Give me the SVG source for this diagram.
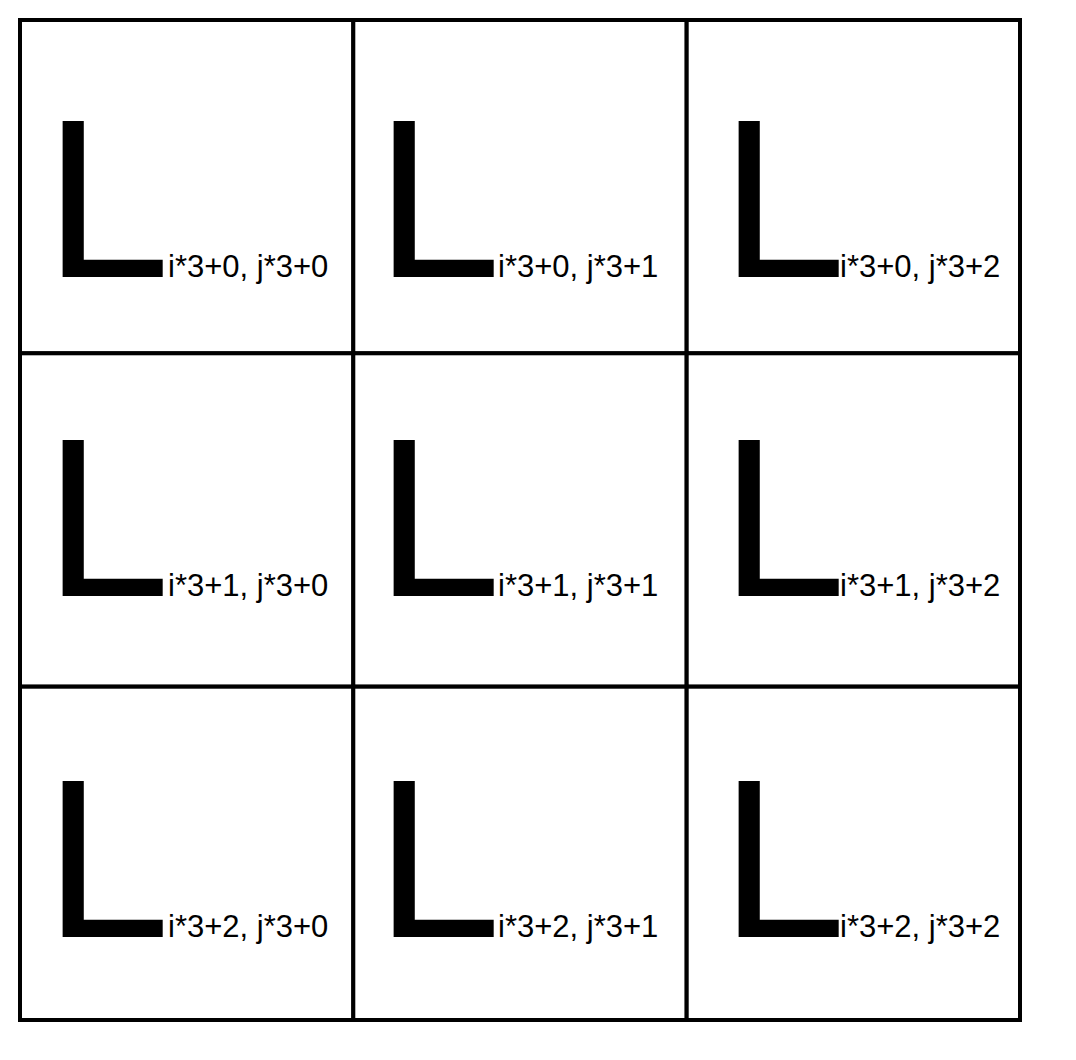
<svg xmlns="http://www.w3.org/2000/svg" width="1076" height="1060" viewBox="0 0 1076 1060">
<style>
.cell{fill:#fff;stroke:#000;stroke-width:4}
.big{font-family:"Liberation Sans",Arial,sans-serif;font-size:227px;fill:#000}
.lbl{font-family:"Liberation Sans",Arial,sans-serif;font-size:31px;fill:#000}
</style>
<rect width="1076" height="1060" fill="#fff"/>
<g id="cell-0-0"><rect class="cell" x="20" y="20" width="333.3" height="333.3"/><text class="big" x="44" y="277">L</text><text class="lbl" x="168" y="277">i*3+0, j*3+0</text></g>
<g id="cell-0-1"><rect class="cell" x="353.3" y="20" width="333.3" height="333.3"/><text class="big" x="375" y="277">L</text><text class="lbl" x="498" y="277">i*3+0, j*3+1</text></g>
<g id="cell-0-2"><rect class="cell" x="686.7" y="20" width="333.3" height="333.3"/><text class="big" x="720" y="277">L</text><text class="lbl" x="840" y="277">i*3+0, j*3+2</text></g>
<g id="cell-1-0"><rect class="cell" x="20" y="353.3" width="333.3" height="333.3"/><text class="big" x="44" y="596">L</text><text class="lbl" x="168" y="596">i*3+1, j*3+0</text></g>
<g id="cell-1-1"><rect class="cell" x="353.3" y="353.3" width="333.3" height="333.3"/><text class="big" x="375" y="596">L</text><text class="lbl" x="498" y="596">i*3+1, j*3+1</text></g>
<g id="cell-1-2"><rect class="cell" x="686.7" y="353.3" width="333.3" height="333.3"/><text class="big" x="720" y="596">L</text><text class="lbl" x="840" y="596">i*3+1, j*3+2</text></g>
<g id="cell-2-0"><rect class="cell" x="20" y="686.7" width="333.3" height="333.3"/><text class="big" x="44" y="937">L</text><text class="lbl" x="168" y="937">i*3+2, j*3+0</text></g>
<g id="cell-2-1"><rect class="cell" x="353.3" y="686.7" width="333.3" height="333.3"/><text class="big" x="375" y="937">L</text><text class="lbl" x="498" y="937">i*3+2, j*3+1</text></g>
<g id="cell-2-2"><rect class="cell" x="686.7" y="686.7" width="333.3" height="333.3"/><text class="big" x="720" y="937">L</text><text class="lbl" x="840" y="937">i*3+2, j*3+2</text></g>
<g id="connectors"/>
</svg>
